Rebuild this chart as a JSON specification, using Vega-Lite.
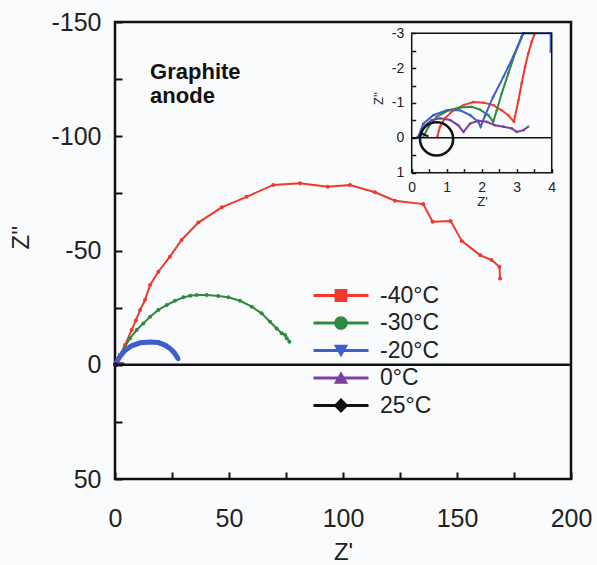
{
  "$schema": "https://vega.github.io/schema/vega-lite/v6.json",
  "width": 456,
  "height": 457,
  "autosize": {"type": "none"},
  "padding": {"left": 115, "top": 22, "right": 26, "bottom": 86},
  "background": "#fafbfc",
  "config": {
    "font": "Liberation Sans",
    "view": {"stroke": "#111", "strokeWidth": 2.5},
    "axis": {"grid": false, "labelColor": "#222", "titleColor": "#222", "tickColor": "#111", "titleFontWeight": "normal", "labelFont": "Liberation Sans", "titleFont": "Liberation Sans"}
  },
  "datasets": {
    "main": [
      {"series": "-40°C", "x": 0, "y": 0},
      {"series": "-40°C", "x": 2.2, "y": -4.3},
      {"series": "-40°C", "x": 4.4, "y": -8.6},
      {"series": "-40°C", "x": 7.3, "y": -15.2},
      {"series": "-40°C", "x": 9.2, "y": -19.5},
      {"series": "-40°C", "x": 11.0, "y": -24.0},
      {"series": "-40°C", "x": 13.2, "y": -28.4},
      {"series": "-40°C", "x": 15.4, "y": -34.9},
      {"series": "-40°C", "x": 19.0, "y": -40.7},
      {"series": "-40°C", "x": 24.1, "y": -47.3},
      {"series": "-40°C", "x": 29.2, "y": -54.6},
      {"series": "-40°C", "x": 36.5, "y": -62.2},
      {"series": "-40°C", "x": 46.8, "y": -68.9},
      {"series": "-40°C", "x": 57.7, "y": -73.5},
      {"series": "-40°C", "x": 69.4, "y": -78.7},
      {"series": "-40°C", "x": 81.1, "y": -79.4},
      {"series": "-40°C", "x": 93.3, "y": -77.9},
      {"series": "-40°C", "x": 103.1, "y": -78.7},
      {"series": "-40°C", "x": 114.0, "y": -75.5},
      {"series": "-40°C", "x": 122.8, "y": -71.8},
      {"series": "-40°C", "x": 135.2, "y": -70.3},
      {"series": "-40°C", "x": 139.3, "y": -62.6},
      {"series": "-40°C", "x": 147.2, "y": -62.9},
      {"series": "-40°C", "x": 152.1, "y": -54.2},
      {"series": "-40°C", "x": 160.1, "y": -48.0},
      {"series": "-40°C", "x": 165.2, "y": -45.8},
      {"series": "-40°C", "x": 168.6, "y": -42.9},
      {"series": "-40°C", "x": 168.9, "y": -37.8},
      {"series": "-30°C", "x": 0, "y": 0},
      {"series": "-30°C", "x": 2.2, "y": -4.3},
      {"series": "-30°C", "x": 4.4, "y": -7.9},
      {"series": "-30°C", "x": 6.6, "y": -11.6},
      {"series": "-30°C", "x": 9.5, "y": -15.2},
      {"series": "-30°C", "x": 12.4, "y": -18.1},
      {"series": "-30°C", "x": 15.4, "y": -21.0},
      {"series": "-30°C", "x": 19.0, "y": -24.0},
      {"series": "-30°C", "x": 22.7, "y": -26.1},
      {"series": "-30°C", "x": 26.3, "y": -28.0},
      {"series": "-30°C", "x": 30.0, "y": -29.5},
      {"series": "-30°C", "x": 33.0, "y": -30.2},
      {"series": "-30°C", "x": 35.8, "y": -30.5},
      {"series": "-30°C", "x": 40.2, "y": -30.5},
      {"series": "-30°C", "x": 45.3, "y": -30.1},
      {"series": "-30°C", "x": 49.7, "y": -29.5},
      {"series": "-30°C", "x": 54.8, "y": -28.0},
      {"series": "-30°C", "x": 60.0, "y": -25.4},
      {"series": "-30°C", "x": 64.3, "y": -22.5},
      {"series": "-30°C", "x": 68.0, "y": -18.8},
      {"series": "-30°C", "x": 70.9, "y": -15.9},
      {"series": "-30°C", "x": 73.1, "y": -13.8},
      {"series": "-30°C", "x": 74.6, "y": -13.0},
      {"series": "-30°C", "x": 75.3, "y": -11.6},
      {"series": "-30°C", "x": 76.5, "y": -10.1},
      {"series": "-20°C", "x": 0, "y": 0},
      {"series": "-20°C", "x": 2.2, "y": -3.7},
      {"series": "-20°C", "x": 4.4, "y": -6.3},
      {"series": "-20°C", "x": 7.3, "y": -8.3},
      {"series": "-20°C", "x": 11.0, "y": -9.6},
      {"series": "-20°C", "x": 15.4, "y": -10.0},
      {"series": "-20°C", "x": 19.0, "y": -9.7},
      {"series": "-20°C", "x": 21.9, "y": -8.6},
      {"series": "-20°C", "x": 24.1, "y": -7.1},
      {"series": "-20°C", "x": 25.9, "y": -5.4},
      {"series": "-20°C", "x": 27.8, "y": -2.4},
      {"series": "0°C", "x": 0.24, "y": -0.08},
      {"series": "0°C", "x": 0.81, "y": -0.56},
      {"series": "0°C", "x": 1.48, "y": -0.17},
      {"series": "0°C", "x": 2.14, "y": -0.46},
      {"series": "0°C", "x": 3.0, "y": -0.17},
      {"series": "0°C", "x": 3.33, "y": -0.32},
      {"series": "25°C", "x": 0.15, "y": 0},
      {"series": "25°C", "x": 0.3, "y": -0.12},
      {"series": "25°C", "x": 0.45, "y": -0.05}
    ],
    "inset": [
      {"series": "-40°C", "x": 0.73, "y": -0.03},
      {"series": "-40°C", "x": 0.81, "y": -0.32},
      {"series": "-40°C", "x": 0.95, "y": -0.56},
      {"series": "-40°C", "x": 1.19, "y": -0.79},
      {"series": "-40°C", "x": 1.48, "y": -0.94},
      {"series": "-40°C", "x": 1.76, "y": -1.03},
      {"series": "-40°C", "x": 2.05, "y": -1.01},
      {"series": "-40°C", "x": 2.33, "y": -0.94},
      {"series": "-40°C", "x": 2.57, "y": -0.79},
      {"series": "-40°C", "x": 2.76, "y": -0.65},
      {"series": "-40°C", "x": 2.92, "y": -0.46},
      {"series": "-40°C", "x": 3.05, "y": -1.08},
      {"series": "-40°C", "x": 3.14, "y": -1.56},
      {"series": "-40°C", "x": 3.24, "y": -2.04},
      {"series": "-40°C", "x": 3.33, "y": -2.42},
      {"series": "-40°C", "x": 3.43, "y": -2.76},
      {"series": "-40°C", "x": 3.52, "y": -3},
      {"series": "-30°C", "x": 0.33, "y": -0.03},
      {"series": "-30°C", "x": 0.48, "y": -0.32},
      {"series": "-30°C", "x": 0.71, "y": -0.6},
      {"series": "-30°C", "x": 1.05, "y": -0.79},
      {"series": "-30°C", "x": 1.38, "y": -0.87},
      {"series": "-30°C", "x": 1.71, "y": -0.89},
      {"series": "-30°C", "x": 1.95, "y": -0.81},
      {"series": "-30°C", "x": 2.19, "y": -0.65},
      {"series": "-30°C", "x": 2.33, "y": -0.46},
      {"series": "-30°C", "x": 2.43, "y": -0.79},
      {"series": "-30°C", "x": 2.57, "y": -1.27},
      {"series": "-30°C", "x": 2.76, "y": -1.85},
      {"series": "-30°C", "x": 2.95, "y": -2.42},
      {"series": "-30°C", "x": 3.19, "y": -3},
      {"series": "-30°C", "x": 3.48, "y": -3},
      {"series": "-20°C", "x": 0.19, "y": -0.03},
      {"series": "-20°C", "x": 0.33, "y": -0.41},
      {"series": "-20°C", "x": 0.62, "y": -0.65},
      {"series": "-20°C", "x": 1.0, "y": -0.79},
      {"series": "-20°C", "x": 1.38, "y": -0.79},
      {"series": "-20°C", "x": 1.67, "y": -0.65},
      {"series": "-20°C", "x": 1.9, "y": -0.46},
      {"series": "-20°C", "x": 1.97, "y": -0.32},
      {"series": "-20°C", "x": 2.1, "y": -0.65},
      {"series": "-20°C", "x": 2.33, "y": -1.18},
      {"series": "-20°C", "x": 2.62, "y": -1.75},
      {"series": "-20°C", "x": 2.9, "y": -2.33},
      {"series": "-20°C", "x": 3.14, "y": -2.9},
      {"series": "-20°C", "x": 3.19, "y": -3},
      {"series": "-20°C", "x": 3.97, "y": -3},
      {"series": "-20°C", "x": 3.97, "y": -2.47},
      {"series": "0°C", "x": 0.24, "y": -0.08},
      {"series": "0°C", "x": 0.38, "y": -0.36},
      {"series": "0°C", "x": 0.57, "y": -0.51},
      {"series": "0°C", "x": 0.81, "y": -0.56},
      {"series": "0°C", "x": 1.1, "y": -0.51},
      {"series": "0°C", "x": 1.33, "y": -0.36},
      {"series": "0°C", "x": 1.48, "y": -0.17},
      {"series": "0°C", "x": 1.67, "y": -0.41},
      {"series": "0°C", "x": 1.9, "y": -0.49},
      {"series": "0°C", "x": 2.14, "y": -0.46},
      {"series": "0°C", "x": 2.38, "y": -0.36},
      {"series": "0°C", "x": 2.62, "y": -0.32},
      {"series": "0°C", "x": 2.86, "y": -0.27},
      {"series": "0°C", "x": 3.0, "y": -0.17},
      {"series": "0°C", "x": 3.19, "y": -0.22},
      {"series": "0°C", "x": 3.33, "y": -0.32},
      {"series": "25°C", "x": 0.15, "y": 0},
      {"series": "25°C", "x": 0.3, "y": -0.12},
      {"series": "25°C", "x": 0.45, "y": -0.05}
    ],
    "labels": [
      {"x": 15.4, "y": -125, "t": ["Graphite", "anode"]}
    ]
  },
  "layer": [
    {
      "layer": [
        {
          "data": {"name": "main"},
          "mark": {"type": "line", "strokeWidth": 2},
          "encoding": {
            "x": {"field": "x", "type": "quantitative", "scale": {"domain": [0, 200], "nice": false, "zero": false},
              "axis": {"orient": "bottom", "values": [0, 25, 50, 75, 100, 125, 150, 175, 200], "labelExpr": "datum.value % 50 === 0 ? '' + datum.value : ''", "domain": false, "tickSize": -7, "tickWidth": 2, "labelFontSize": 25, "labelPadding": 34, "title": "Z'", "titleFontSize": 24, "titlePadding": 9, "labelFlush": false}},
            "y": {"field": "y", "type": "quantitative", "scale": {"domain": [-150, 50], "reverse": true, "nice": false, "zero": false},
              "axis": {"orient": "left", "values": [-150, -125, -100, -75, -50, -25, 0, 25, 50], "labelExpr": "datum.value % 50 === 0 ? '' + datum.value : ''", "domain": false, "tickSize": -7, "tickWidth": 2, "labelFontSize": 25, "labelPadding": 21, "title": "Z''", "titleFontSize": 24, "titleX": -82, "titleY": 215, "labelFlush": false}},
            "color": {"field": "series", "type": "nominal", "scale": {"range": ["#3d5ecb", "#2d8a3e", "#f0392b", "#7b3fa1", "#111111"]}, "legend": null},
            "order": {"value": null}
          }
        },
        {
          "data": {"name": "main"},
          "transform": [{"filter": "datum.series === '-20°C'"}],
          "mark": {"type": "line", "strokeWidth": 5},
          "encoding": {
            "x": {"field": "x", "type": "quantitative"},
            "y": {"field": "y", "type": "quantitative"},
            "color": {"field": "series", "type": "nominal", "legend": null},
            "order": {"value": null}
          }
        },
        {
          "data": {"name": "main"},
          "mark": {"type": "point", "filled": true, "size": 16, "opacity": 1},
          "encoding": {
            "x": {"field": "x", "type": "quantitative"},
            "y": {"field": "y", "type": "quantitative"},
            "color": {"field": "series", "type": "nominal", "legend": null}
          }
        },
        {
          "data": {"values": [{}]},
          "mark": {"type": "rule", "color": "#111", "strokeWidth": 2.5},
          "encoding": {"y": {"datum": 0, "type": "quantitative"}}
        },
        {
          "data": {"name": "main"},
          "transform": [{"filter": "datum.x < 0.31"}],
          "mark": {"type": "point", "filled": true, "size": 1, "opacity": 1},
          "encoding": {
            "x": {"field": "x", "type": "quantitative"},
            "y": {"field": "y", "type": "quantitative"},
            "fill": {"field": "series", "type": "nominal",
              "scale": {"domain": ["-40°C", "-30°C", "-20°C", "0°C", "25°C"], "range": ["#f0392b", "#2d8a3e", "#3d5ecb", "#7b3fa1", "#111111"]},
              "legend": {"orient": "none", "legendX": 214.5, "legendY": 262, "title": null, "padding": 0, "labelFontSize": 23, "labelColor": "#222", "labelFont": "Liberation Sans", "symbolSize": 400, "symbolStrokeWidth": 0, "symbolOpacity": 1, "labelOffset": 27.5, "rowPadding": 3.5}},
            "shape": {"field": "series", "type": "nominal",
              "scale": {"domain": ["-40°C", "-30°C", "-20°C", "0°C", "25°C"], "range": [
                "M-2.75,-0.14H2.75V0.14H-2.75Z M-0.64,-0.64H0.64V0.64H-0.64Z",
                "M-2.75,-0.14H2.75V0.14H-2.75Z M-0.68,0A0.68,0.68 0 1,1 0.68,0A0.68,0.68 0 1,1 -0.68,0Z",
                "M-2.75,-0.14H2.75V0.14H-2.75Z M-0.72,-0.58L0.72,-0.58L0,0.68Z",
                "M-2.75,-0.14H2.75V0.14H-2.75Z M0,-0.68L0.72,0.58L-0.72,0.58Z",
                "M-2.75,-0.14H2.75V0.14H-2.75Z M0,-0.74L0.74,0L0,0.74L-0.74,0Z"
              ]},
              "legend": {"orient": "none", "legendX": 214.5, "legendY": 262, "title": null}}
          }
        },
        {
          "data": {"name": "labels"},
          "mark": {"type": "text", "align": "left", "baseline": "alphabetic", "fontSize": 22, "fontWeight": "bold", "font": "Liberation Sans", "color": "#111", "lineHeight": 24},
          "encoding": {
            "x": {"field": "x", "type": "quantitative"},
            "y": {"field": "y", "type": "quantitative"},
            "text": {"field": "t"}
          }
        }
      ]
    },
    {
      "layer": [
        {
          "data": {"name": "inset"},
          "mark": {"type": "line", "strokeWidth": 2},
          "encoding": {
            "x": {"field": "x", "type": "quantitative", "scale": {"domain": [-8.477, 4.551], "nice": false, "zero": false},
              "axis": {"orient": "bottom", "offset": -306.3, "values": [0, 0.5, 1, 1.5, 2, 2.5, 3, 3.5, 4], "labelExpr": "datum.value % 1 === 0 ? '' + datum.value : ''", "domain": false, "tickSize": -4, "tickWidth": 1.5, "labelFontSize": 14, "labelPadding": 12, "title": "Z'", "titleFontSize": 13, "titlePadding": 1, "titleX": 367, "labelFlush": false}},
            "y": {"field": "y", "type": "quantitative", "scale": {"domain": [-3.324, 9.789], "reverse": true, "nice": false, "zero": false},
              "axis": {"orient": "left", "offset": -296.7, "values": [-3, -2.5, -2, -1.5, -1, -0.5, 0, 0.5, 1], "labelExpr": "datum.value % 1 === 0 ? '' + datum.value : ''", "domain": false, "tickSize": -4, "tickWidth": 1.5, "labelFontSize": 14, "labelPadding": 12, "title": "Z''", "titleFontSize": 13, "titleY": 76, "titlePadding": 6, "labelFlush": false}},
            "color": {"field": "series", "type": "nominal", "legend": null},
            "order": {"value": null}
          }
        },
        {
          "data": {"name": "inset"},
          "mark": {"type": "point", "filled": true, "size": 8},
          "encoding": {
            "x": {"field": "x", "type": "quantitative"},
            "y": {"field": "y", "type": "quantitative"},
            "color": {"field": "series", "type": "nominal", "legend": null}
          }
        },
        {
          "data": {"values": [{}]},
          "mark": {"type": "rect", "fillOpacity": 0, "stroke": "#111", "strokeWidth": 1.5},
          "encoding": {
            "x": {"datum": 0, "type": "quantitative"},
            "x2": {"datum": 4},
            "y": {"datum": -3, "type": "quantitative"},
            "y2": {"datum": 1}
          }
        },
        {
          "data": {"values": [{}]},
          "mark": {"type": "rule", "color": "#111", "strokeWidth": 1.5},
          "encoding": {
            "x": {"datum": 0, "type": "quantitative"},
            "x2": {"datum": 4},
            "y": {"datum": 0, "type": "quantitative"}
          }
        },
        {
          "data": {"values": [{}]},
          "mark": {"type": "point", "filled": false, "shape": "circle", "size": 1100, "stroke": "#111", "strokeWidth": 2.5, "opacity": 1},
          "encoding": {
            "x": {"datum": 0.71, "type": "quantitative"},
            "y": {"datum": 0.03, "type": "quantitative"}
          }
        }
      ]
    }
  ],
  "resolve": {"scale": {"x": "independent", "y": "independent"}}
}
